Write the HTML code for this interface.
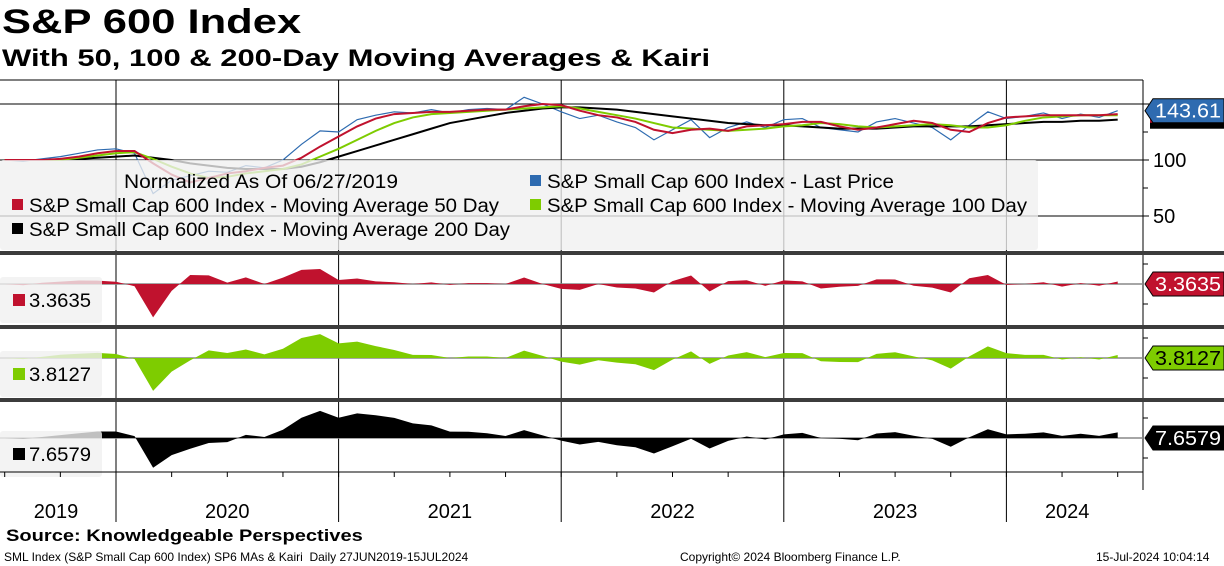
<!DOCTYPE html>
<html><head><meta charset="utf-8">
<style>
body{margin:0;width:1224px;height:566px;background:#fff;overflow:hidden;font-family:"Liberation Sans",sans-serif;}
#t1{position:absolute;left:2px;top:3px;font-size:34px;font-weight:bold;transform:scaleX(1.28);transform-origin:0 0;white-space:nowrap;}
#t2{position:absolute;left:2px;top:45px;font-size:24px;font-weight:bold;transform:scaleX(1.29);transform-origin:0 0;white-space:nowrap;}
#src{position:absolute;left:6px;top:526px;font-size:17px;font-weight:bold;transform:scaleX(1.18);transform-origin:0 0;white-space:nowrap;}
.ft{position:absolute;top:550px;font-size:12px;white-space:nowrap;}
svg{position:absolute;left:0;top:0;}
</style></head><body>
<div id="t1">S&amp;P 600 Index</div>
<div id="t2">With 50, 100 &amp; 200-Day Moving Averages &amp; Kairi</div>
<svg id="c" width="1224" height="566"></svg>
<div id="src">Source: Knowledgeable Perspectives</div>
<div class="ft" style="left:4px">SML Index (S&amp;P Small Cap 600 Index) SP6 MAs &amp; Kairi&nbsp; Daily 27JUN2019-15JUL2024</div>
<div class="ft" style="left:680px">Copyright© 2024 Bloomberg Finance L.P.</div>
<div class="ft" style="left:1096px">15-Jul-2024 10:04:14</div>
<script>
// monthly points, Jul 2019 .. Jul 2024
const price=[100,99,101,103,106,109,
110,106,70,82,86,90,89,95,93,100,114,126,
125,136,140,143,142,145,142,145,146,145,156,150,
143,137,140,134,129,118,127,136,120,129,134,129,
136,137,129,127,125,134,137,133,129,118,131,143,
137,139,142,137,141,138,144];
const ma50=[100,100,100,101,103,106,
108,108,97,87,80,84,88,90,93,95,102,112,
121,130,137,141,142,143,143,144,145,145,148,150,
149,144,140,138,134,127,124,127,128,126,130,131,
132,134,134,130,127,129,132,135,133,127,125,133,
138,139,140,140,140,140,141];
const ma100=[100,100,100,100,102,104,
106,107,101,94,88,84,85,88,90,92,96,103,
110,118,126,133,138,141,142,143,144,145,146,147,
148,146,143,140,137,133,129,128,127,126,127,128,
130,131,133,132,130,129,130,131,132,131,129,129,
131,135,138,139,140,140,140];
const ma200=[100,100,100,100,101,102,
103,104,102,100,97,95,93,92,92,92,94,98,
103,108,113,118,123,128,133,136,139,142,144,146,
147,147,146,145,143,141,139,137,135,133,132,131,
131,130,129,128,128,128,129,130,130,130,130,131,
132,133,134,134,135,135,136];
const years=["2019","2020","2021","2022","2023","2024"];
const yTicks=[50,100,150];
const lastLabels=["143.61","3.3635","3.8127","7.6579"];

const S=document.getElementById('c');const NS="http://www.w3.org/2000/svg";
function mk(t,a,p){const e=document.createElementNS(NS,t);for(const k in a)e.setAttribute(k,a[k]);(p||S).appendChild(e);return e;}
const X=m=>116+(m-6)*18.55;
const Y=v=>160-(v-100)*1.12;
const PR=1143;
// grid
const g=mk('g',{});
mk('line',{x1:0,x2:PR,y1:80,y2:80,stroke:'#000','stroke-width':1},g);
yTicks.forEach(v=>{mk('line',{x1:0,x2:PR+6,y1:Y(v),y2:Y(v),stroke:'#000','stroke-width':1},g);});
years.forEach((y,i)=>{if(i>0){const x=X(6+12*(i-1));mk('line',{x1:x,x2:x,y1:80,y2:522,stroke:'#000','stroke-width':1},g);}});
// main lines
function line(arr,col,w,name){const p=mk('polyline',{points:arr.map((v,i)=>X(i)+','+Y(v)).join(' '),fill:'none',stroke:col,'stroke-width':w});
}
line(price,'#2e6bb0',1.2,'last-price-line');
line(ma200,'#000',2,'ma200-line');
line(ma100,'#7ecc00',2,'ma100-line');
line(ma50,'#c0122e',2,'ma50-line');
// legend box
const lg=mk('g',{});
mk('rect',{x:0,y:160,width:1038,height:90,rx:3,fill:'rgba(240,240,240,0.78)'},lg);
function lt(x,y,txt,col,len){if(col)mk('rect',{x:x,y:y-13,width:11,height:11,fill:col},lg);const t=mk('text',{x:x+(col?17:0),y:y,'font-size':19,fill:'#000',textLength:len,lengthAdjust:'spacingAndGlyphs'},lg);t.textContent=txt;}
lt(124,188,'Normalized As Of 06/27/2019',null,274);
lt(530,188,'S&P Small Cap 600 Index - Last Price','#2e6bb0',347);
lt(12,212,'S&P Small Cap 600 Index - Moving Average 50 Day','#c0122e',470);
lt(530,212,'S&P Small Cap 600 Index - Moving Average 100 Day','#7ecc00',480);
lt(12,236,'S&P Small Cap 600 Index - Moving Average 200 Day','#000',481);
// right axis
mk('line',{x1:PR,x2:PR,y1:80,y2:490,stroke:'#000'});
[{v:100,t:'100'},{v:50,t:'50'}].forEach(o=>{const t=mk('text',{x:1153,y:Y(o.v)+7,'font-size':20});t.textContent=o.t;});
[75,125].forEach(v=>mk('line',{x1:PR,x2:PR+5,y1:Y(v),y2:Y(v),stroke:'#000'}));
function tag(y,txt,bg,fg,name){const gg=mk('g',{});
mk('path',{d:`M1145 ${y} L1153 ${y-12} L1224 ${y-12} L1224 ${y+12} L1153 ${y+12} Z`,fill:bg,stroke:'#000'},gg);
const t=mk('text',{x:1155,y:y+7,'font-size':20,fill:fg,textLength:66,lengthAdjust:'spacingAndGlyphs'},gg);t.textContent=txt;}
mk('rect',{x:1150,y:Y(price[60])+8,width:74,height:10,fill:'#000'});
mk('rect',{x:1150,y:Y(price[60])+8,width:74,height:4,fill:'#c0122e'});
tag(Y(price[60]),lastLabels[0],'#2e6bb0','#fff','last-price-tag');
// separators & kairi panels
const panels=[{ma:ma50,z:284,k:1.2,col:'#c0122e',fg:'#fff',n:'kairi-50'},{ma:ma100,z:358,k:1.07,col:'#7ecc00',fg:'#000',n:'kairi-100'},{ma:ma200,z:438,k:0.95,col:'#000',fg:'#fff',n:'kairi-200'}];
[253,327,400].forEach(y=>mk('rect',{x:0,y:y-2,width:1224,height:4,fill:'#3c3c3c'}));
panels.forEach((p,j)=>{
 const gg=mk('g',{});
 mk('line',{x1:0,x2:PR,y1:p.z,y2:p.z,stroke:'#888','stroke-width':1.5},gg);
 const kv=price.map((v,i)=>(v-p.ma[i])/p.ma[i]*100);
 let d=`M${X(0)} ${p.z}`;kv.forEach((v,i)=>{d+=` L${X(i)} ${p.z-v*p.k}`;});d+=` L${X(kv.length-1)} ${p.z} Z`;
 const a=mk('path',{d:d,fill:p.col},gg);
 mk('rect',{x:0,y:p.z-7,width:102,height:46,rx:3,fill:'rgba(240,240,240,0.8)'},gg);
 mk('rect',{x:13,y:p.z+10,width:12,height:12,fill:p.col},gg);
 const t=mk('text',{x:29,y:p.z+23,'font-size':19,textLength:62,lengthAdjust:'spacingAndGlyphs'},gg);t.textContent=lastLabels[j+1];
 [-20,20].forEach(o=>mk('line',{x1:PR,x2:PR+5,y1:p.z+o,y2:p.z+o,stroke:'#000'},gg));
 tag(p.z,lastLabels[j+1],p.col,p.fg,p.n+'-tag');
});
// x axis
mk('line',{x1:0,x2:PR,y1:472,y2:472,stroke:'#000'});
years.forEach((y,i)=>{const s=Math.max(0,X(6+12*(i-1)));const e=Math.min(1128,X(6+12*i));
 const t=mk('text',{x:i==0?56:(s+e)/2,y:518,'font-size':20,'text-anchor':'middle'});t.textContent=y;
 });
for(let m=0;m<=60;m+=3)mk('line',{x1:X(m),x2:X(m),y1:472,y2:477,stroke:'#000'});
</script>
</body></html>
